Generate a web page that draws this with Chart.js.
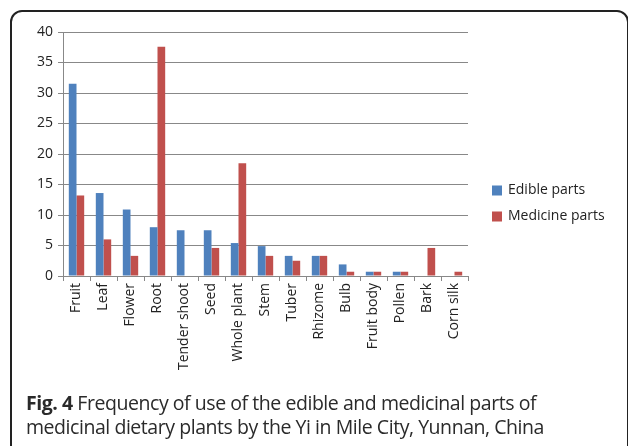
<!DOCTYPE html>
<html>
<head>
<meta charset="utf-8">
<script src="https://cdn.jsdelivr.net/npm/chart.js@4/dist/chart.umd.min.js"></script>
<style>
  html, body { margin: 0; padding: 0; background: #fff; }
  body { width: 628px; height: 446px; position: relative; overflow: hidden; }
  #frame { position: absolute; left: 10px; top: 10px; width: 619px; height: 460px;
           border: 2px solid #222; border-radius: 12px; box-sizing: border-box; }
  #wrap { position: absolute; left: 0; top: 0; width: 628px; height: 446px; }
  #caption { position: absolute; left: 26px; top: 391px; width: 600px; white-space: nowrap;
             font-family: "Open Sans", "Noto Sans", sans-serif; font-size: 19.5px; line-height: 23.5px;
             color: #2a2a2a; letter-spacing: -0.45px; }
  #caption b { font-weight: 700; }
</style>
</head>
<body>
<div id="frame"></div>
<div id="wrap"><canvas id="c" width="628" height="446"></canvas></div>
<div id="caption"><b>Fig. 4</b> Frequency of use of the edible and medicinal parts of<br>medicinal dietary plants by the Yi in Mile City, Yunnan, China</div>
<script>
const categories = ["Fruit", "Leaf", "Flower", "Root", "Tender shoot", "Seed", "Whole plant", "Stem", "Tuber", "Rhizome", "Bulb", "Fruit body", "Pollen", "Bark", "Corn silk"];
const edibleParts = [31.5, 13.6, 10.9, 8.0, 7.5, 7.5, 5.4, 4.9, 3.3, 3.3, 1.9, 0.7, 0.7, 0, 0];
const medicineParts = [13.2, 6.0, 3.3, 37.6, 0, 4.6, 18.5, 3.3, 2.5, 3.3, 0.7, 0.7, 0.7, 4.6, 0.7];
const yTicks = [0, 5, 10, 15, 20, 25, 30, 35, 40];
const seriesNames = ["Edible parts", "Medicine parts"];
const colors = ["#4F81BD", "#C0504D"];

const legendPlugin = {
  id: 'sideLegend',
  afterDraw(chart) {
    const ctx = chart.ctx;
    ctx.save();
    ctx.font = '14px "Open Sans", sans-serif';
    ctx.textBaseline = 'middle';
    seriesNames.forEach((n, i) => {
      const y = 190.5 + i * 26;
      ctx.fillStyle = colors[i];
      ctx.fillRect(492, y - 5, 10, 10);
      ctx.fillStyle = '#222';
      ctx.fillText(n, 508, y);
    });
    ctx.restore();
  }
};

new Chart(document.getElementById('c'), {
  type: 'bar',
  data: {
    labels: categories,
    datasets: [
      { label: seriesNames[0], data: edibleParts, backgroundColor: colors[0], borderWidth: 0,
        barPercentage: 1.0, categoryPercentage: 0.57 },
      { label: seriesNames[1], data: medicineParts, backgroundColor: colors[1], borderWidth: 0,
        barPercentage: 1.0, categoryPercentage: 0.57 }
    ]
  },
  options: {
    responsive: false,
    animation: false,
    layout: { padding: { left: 0, right: 160, top: 32, bottom: 0 } },
    plugins: { legend: { display: false }, tooltip: { enabled: false } },
    scales: {
      x: {
        offset: true,
        grid: { offset: true, drawOnChartArea: false, drawTicks: true, tickLength: 5, color: '#888' },
        border: { color: '#888', width: 1 },
        ticks: { autoSkip: false, maxRotation: 90, minRotation: 90, padding: 2,
                 font: { family: '"Open Sans", sans-serif', size: 14 }, color: '#222' },
        afterFit(scale) { scale.height = 170; }
      },
      y: {
        min: 0, max: 40,
        afterBuildTicks(scale) { scale.ticks = yTicks.map(v => ({ value: v })); },
        grid: { color: '#888', lineWidth: 1, drawTicks: true, tickLength: 5 },
        border: { color: '#888', width: 1 },
        ticks: { padding: 5, font: { family: '"Open Sans", sans-serif', size: 14 }, color: '#222' },
        afterFit(scale) { scale.width = 63; }
      }
    }
  },
  plugins: [legendPlugin]
});
</script>
</body>
</html>
